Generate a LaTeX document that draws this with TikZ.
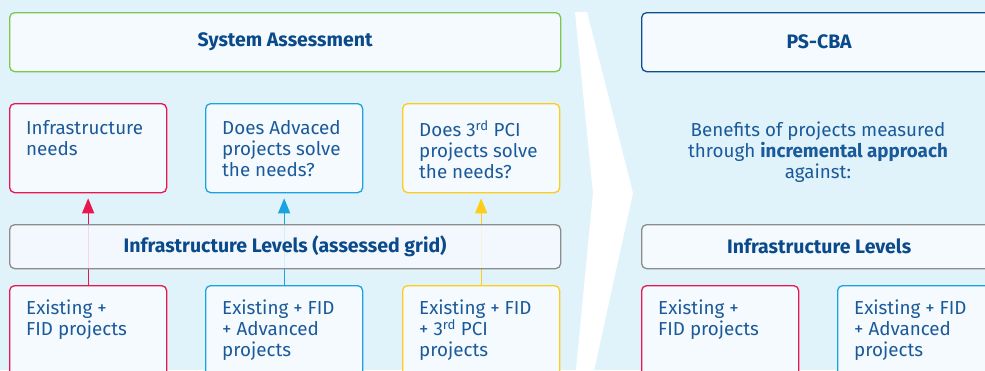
\documentclass[tikz,border=0pt]{standalone}
\usepackage{fontspec}
\setmainfont{Fira Sans}
\usetikzlibrary{arrows.meta}

\definecolor{bgblue}{HTML}{E1F3FA}
\definecolor{boxfill}{HTML}{F5FAFE}
\definecolor{sagreen}{HTML}{7CC84E}
\definecolor{needred}{HTML}{E8174F}
\definecolor{advblue}{HTML}{1AA3E0}
\definecolor{pciyellow}{HTML}{FFCC1A}
\definecolor{levgrey}{HTML}{8C8C8C}
\definecolor{cbablue}{HTML}{0D4F8F}
\definecolor{txtblue}{HTML}{1B5A9A}
\definecolor{headblue}{HTML}{0A4A8A}

\tikzset{
  box/.style={draw, rounded corners=5pt, line width=1.3pt, fill=boxfill, anchor=north west, inner sep=0pt},
  widebox/.style={box, minimum width=551pt},
  cellbox/.style={box, minimum width=157pt},
  headtxt/.style={inner sep=0pt, text=headblue, font=\fontsize{19.5}{21}\selectfont\bfseries},
  celltxt/.style={anchor=north west, align=left, inner sep=0pt, text=txtblue, font=\fontsize{18.8}{21}\selectfont},
  uparrow/.style={line width=1.3pt, -{Triangle[width=12pt,length=15pt]}, shorten >=5pt}
}

\begin{document}
\begin{tikzpicture}[x=1pt, y=-1pt]
\useasboundingbox (0,0) rectangle (985,370);
\clip (0,0) rectangle (985,370);
\fill[bgblue] (0,0) rectangle (985,370);

% chevron between the two halves
\fill[white] (575,12) -- (587,12) -- (633,193) -- (592,380) -- (575,380) -- (593,193) -- cycle;

% system assessment side
\node[widebox, draw=sagreen, minimum height=59pt] (sa) at (9,12) {};
\node[headtxt] (satxt) at (sa.center) {System Assessment};

\node[cellbox, draw=needred, minimum height=89pt] (needs) at (9,103) {};
\node[cellbox, draw=advblue, minimum height=89pt] (advq) at (205,103) {};
\node[cellbox, draw=pciyellow, minimum height=89pt] (pciq) at (402,103) {};
\node[celltxt] (needstxt) at (26,120) {Infrastructure\\needs};
\node[celltxt] (advqtxt) at (222,120) {Does Advaced\\projects solve\\the needs?};
\node[celltxt] (pciqtxt) at (419,120) {Does 3\textsuperscript{rd} PCI\\projects solve\\the needs?};

\node[cellbox, draw=needred, minimum height=100pt] (exfid) at (9,285) {};
\node[cellbox, draw=advblue, minimum height=100pt] (exadv) at (205,285) {};
\node[cellbox, draw=pciyellow, minimum height=100pt] (expci) at (402,285) {};
\node[celltxt] (exfidtxt) at (26,300) {Existing +\\FID projects};
\node[celltxt] (exadvtxt) at (222,300) {Existing + FID\\+ Advanced\\projects};
\node[celltxt] (expcitxt) at (419,300) {Existing + FID\\+ 3\textsuperscript{rd} PCI\\projects};

\draw[uparrow, needred] (exfid.north -| needs.south) -- (needs.south);
\draw[uparrow, advblue] (exadv.north -| advq.south) -- (advq.south);
\draw[uparrow, pciyellow] (expci.north -| pciq.south) -- (pciq.south);

\node[widebox, draw=levgrey, fill opacity=0.85, text opacity=1, minimum height=44pt] (lev) at (9,224) {};
\node[headtxt] (levtxt) at (lev.center) {Infrastructure Levels (assessed grid)};

% ps-cba side
\node[box, draw=cbablue, minimum width=355pt, minimum height=59pt] (cba) at (641,12) {};
\node[headtxt] (cbatxt) at (cba.center) {PS-CBA};
\node[align=center, inner sep=0pt, text=txtblue, font=\fontsize{18.8}{21}\selectfont] (benefits) at (818,152)
  {Benefits of projects measured\\through \textbf{incremental approach}\\against:};
\node[box, draw=levgrey, minimum width=355pt, minimum height=44pt] (cbalev) at (641,224) {};
\node[headtxt] (cbalevtxt) at (cbalev.center) {Infrastructure Levels};
\node[cellbox, draw=needred, minimum height=100pt] (cbafid) at (641,285) {};
\node[cellbox, draw=advblue, minimum height=100pt] (cbaadv) at (837,285) {};
\node[celltxt] (cbafidtxt) at (658,300) {Existing +\\FID projects};
\node[celltxt] (cbaadvtxt) at (854,300) {Existing + FID\\+ Advanced\\projects};
\end{tikzpicture}
\end{document}
